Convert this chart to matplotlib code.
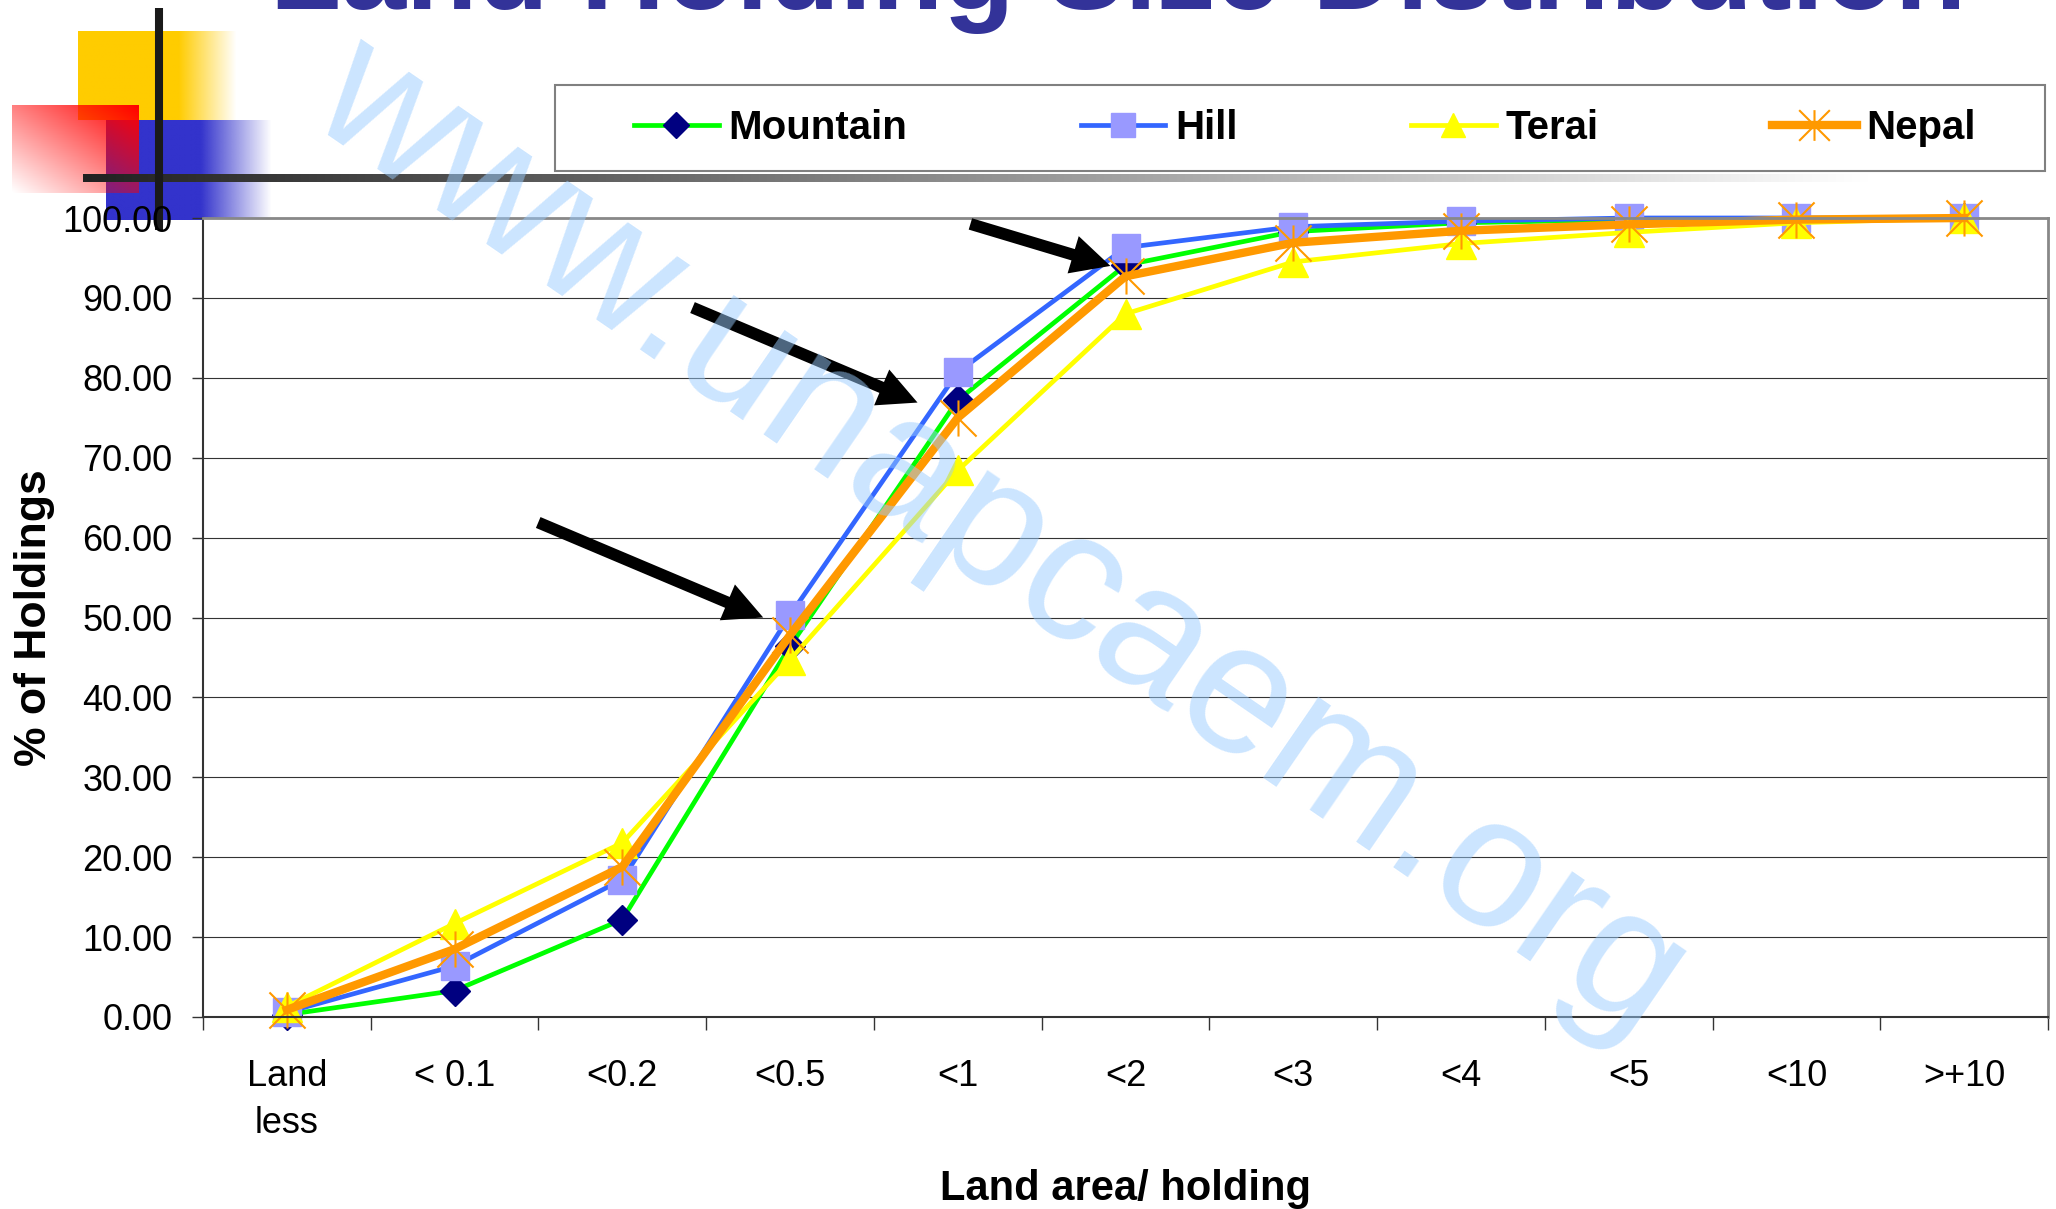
import numpy as np
import matplotlib.pyplot as plt
import matplotlib.colors as mcolors
from matplotlib.path import Path
from matplotlib.patches import Rectangle

categories = ["Land\nless", "< 0.1", "<0.2", "<0.5", "<1", "<2", "<3", "<4", "<5", "<10", ">+10"]
mountain = [0.3, 3.3, 12.2, 46.4, 77.2, 94.1, 98.3, 99.4, 99.8, 99.9, 100.0]
hill = [0.6, 6.4, 17.2, 50.3, 80.7, 96.3, 98.9, 99.6, 100.0, 100.0, 100.0]
terai = [1.3, 11.7, 21.8, 44.7, 68.4, 88.0, 94.5, 96.8, 98.2, 99.4, 100.0]
nepal = [0.9, 8.5, 18.8, 47.8, 75.0, 92.7, 96.9, 98.4, 99.2, 99.8, 100.0]
yticks = np.arange(0, 101, 10)

# arrow tips (data) and tail offsets (pixels)
arrow_tips = [(2.84, 50.0), (3.76, 76.9), (4.91, 94.0)]
arrow_tails = [(-225, 95), (-225, 95), (-140, 42)]

W, H = 2056, 1209
plt.rcParams['font.family'] = ['Liberation Sans', 'DejaVu Sans']
fig = plt.figure(figsize=(W / 100, H / 100), dpi=100)

# slide decoration, pixel coords from top-left
deco = fig.add_axes([0, 0, 1, 1], zorder=0)


def grad_box(x0, x1, y0, y1, color, alpha):
    rgba = np.zeros(alpha.shape + (4,))
    rgba[..., :3] = mcolors.to_rgb(color)
    rgba[..., 3] = alpha
    deco.imshow(rgba, extent=(x0, x1, y1, y0), aspect='auto', interpolation='bilinear')


xs = np.linspace(78, 237, 160)
grad_box(78, 237, 31, 120, '#FFCC00', np.tile(np.clip((237 - xs) / 58, 0, 1), (10, 1)))
xs = np.linspace(106, 272, 170)
grad_box(106, 272, 120, 220, '#3333CC', np.tile(np.clip((272 - xs) / 71, 0, 1), (10, 1)))
u, v = np.meshgrid(np.linspace(0, 1, 100), np.linspace(0, 1, 100))
grad_box(12, 139, 105, 193, '#FF0000', np.clip((u + 1 - v) / 2, 0, 1))

gray = np.linspace(0.13, 1.0, 400)
bar = np.tile(np.stack([gray, gray, gray], axis=-1), (4, 1, 1))
deco.imshow(bar, extent=(83, 1870, 182, 174), aspect='auto', interpolation='bilinear')
deco.plot([159, 159], [8, 230], color='#1a1a1a', lw=5.8, solid_capstyle='butt')
deco.set_xlim(0, W)
deco.set_ylim(H, 0)
deco.axis('off')

fig.text(1118 / W, 1 - 9 / H, 'Land Holding Size Distribution', fontsize=84,
         weight='bold', color='#333399', ha='center', va='baseline')

# chart
ax = fig.add_axes([203 / W, 1 - 1017 / H, 1845 / W, 799 / H], zorder=1)
x = np.arange(len(categories))
star = Path([(0, -1), (0, 1), (-1, -1), (1, 1), (-1, 1), (1, -1)],
            [Path.MOVETO, Path.LINETO] * 3)

ax.plot(x, mountain, color='#00FF00', lw=3.4, marker='D', ms=15, mfc='#000080',
        mec='#000080', label='Mountain', clip_on=False)
ax.plot(x, hill, color='#3366FF', lw=3.4, marker='s', ms=20, mfc='#9999FF',
        mec='#9999FF', label='Hill', clip_on=False)
ax.plot(x, terai, color='#FFFF00', lw=3.4, marker='^', ms=21, mfc='#FFFF00',
        mec='#FFFF00', label='Terai', clip_on=False)
ax.plot(x, nepal, color='#FF9900', lw=6, marker=star, ms=26, mfc='none',
        mec='#FF9900', mew=1.5, label='Nepal', clip_on=False)

for tip, tail in zip(arrow_tips, arrow_tails):
    ax.annotate('', xy=tip, xytext=tail, textcoords='offset pixels',
                arrowprops=dict(arrowstyle='simple,head_length=28,head_width=28,tail_width=8.5',
                                mutation_scale=1, fc='black', ec='none',
                                shrinkA=0, shrinkB=0), zorder=4)

ax.set_xlim(-0.5, 10.5)
ax.set_ylim(0, 100)
ax.set_yticks(yticks)
ax.set_yticklabels([f'{t:.2f}' for t in yticks])
ax.set_xticks(np.arange(-0.5, 11, 1))
ax.set_xticklabels([])
ax.set_xticks(x, minor=True)
ax.set_xticklabels(categories, minor=True)
for t in ax.get_xticklabels(minor=True):
    t.set_linespacing(1.45)
ax.tick_params(axis='x', which='major', direction='out', length=9.5, width=1, color='#333333')
ax.tick_params(axis='x', which='minor', length=0, pad=30, labelsize=26)
ax.tick_params(axis='y', direction='out', length=8, width=1, pad=14, labelsize=26, color='#333333')
ax.grid(axis='y', color='#333333', lw=0.8)
ax.set_axisbelow(True)
for s in ['left', 'bottom']:
    ax.spines[s].set_color('#333333')
    ax.spines[s].set_linewidth(1.5)
for s in ['top', 'right']:
    ax.spines[s].set_color('#888888')
    ax.spines[s].set_linewidth(2)

ax.set_ylabel('% of Holdings', fontsize=32, weight='bold')
ax.yaxis.set_label_coords(-0.080, 0.5)
ax.set_xlabel('Land area/ holding', fontsize=30, weight='bold')
ax.xaxis.set_label_coords(0.5, -0.190)

# legend box + entries
fig.add_artist(Rectangle((555 / W, 1 - 171 / H), 1490 / W, 86 / H, transform=fig.transFigure,
                         facecolor='white', edgecolor='#808080', lw=1.5, zorder=4))
fig.legend(loc='center left', bbox_to_anchor=(634 / W, 1 - 128 / H), ncol=4,
           frameon=False, prop={'weight': 'bold', 'size': 29}, handlelength=2.1,
           handletextpad=0.25, columnspacing=4.3, markerscale=0.85,
           borderpad=0, borderaxespad=0).set_zorder(5)

fig.text(1000 / W, 1 - 539 / H, 'www.unapcaem.org', fontsize=133, color='#99CCFF',
         alpha=0.5, rotation=-34.5, rotation_mode='anchor', ha='center', va='center', zorder=10)

fig.savefig('out.png', dpi=100)
